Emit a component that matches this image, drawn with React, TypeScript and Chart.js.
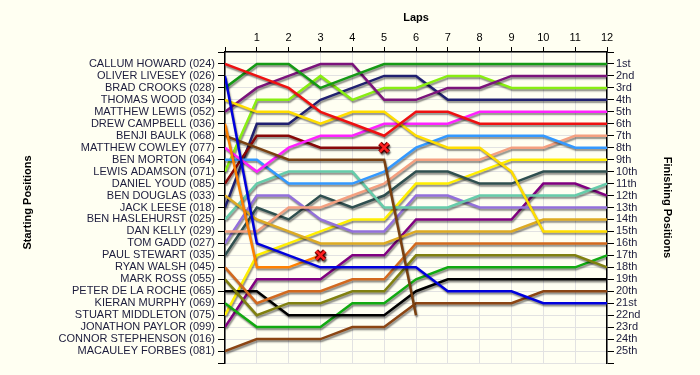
import React, { useEffect, useRef } from 'react';
import { Chart, registerables } from 'chart.js';

Chart.register(...registerables);

const LAPS = [0, 1, 2, 3, 4, 5, 6, 7, 8, 9, 10, 11, 12];

const DRIVERS = [
  'CALLUM HOWARD (024)',
  'OLIVER LIVESEY (026)',
  'BRAD CROOKS (028)',
  'THOMAS WOOD (034)',
  'MATTHEW LEWIS (052)',
  'DREW CAMPBELL (036)',
  'BENJI BAULK (068)',
  'MATTHEW COWLEY (077)',
  'BEN MORTON (064)',
  'LEWIS ADAMSON (071)',
  'DANIEL YOUD (085)',
  'BEN DOUGLAS (033)',
  'JACK LEESE (018)',
  'BEN HASLEHURST (025)',
  'DAN KELLY (029)',
  'TOM GADD (027)',
  'PAUL STEWART (035)',
  'RYAN WALSH (045)',
  'MARK ROSS (055)',
  'PETER DE LA ROCHE (065)',
  'KIERAN MURPHY (069)',
  'STUART MIDDLETON (075)',
  'JONATHON PAYLOR (099)',
  'CONNOR STEPHENSON (016)',
  'MACAULEY FORBES (081)',
];

const FINISH_LABELS = [
  '1st', '2nd', '3rd', '4th', '5th', '6th', '7th', '8th', '9th', '10th',
  '11th', '12th', '13th', '14th', '15th', '16th', '17th', '18th', '19th', '20th',
  '21st', '22nd', '23rd', '24th', '25th',
];

// Position of each driver at the end of each lap (index = lap)
const CALLUM_HOWARD = [1, 2, 3, 5, 6, 7, 5, 5, 6, 6, 6, 6, 6];
const OLIVER_LIVESEY = [2, 16, 17, 18, 18, 18, 18, 20, 20, 20, 21, 21, 21];
const BRAD_CROOKS = [3, 1, 1, 3, 2, 1, 1, 1, 1, 1, 1, 1, 1];
const THOMAS_WOOD = [4, 5, 5, 6, 5, 5, 7, 8, 8, 10, 15, 15, 15];
const MATTHEW_LEWIS = [5, 3, 2, 1, 1, 4, 4, 3, 3, 2, 2, 2, 2];
const DREW_CAMPBELL = [6, 18, 18, 17];
const BENJI_BAULK = [7, 8, 9, 9, 9, 9, 22];
const MATTHEW_COWLEY = [8, 10, 8, 7, 7, 6, 6, 6, 5, 5, 5, 5, 5];
const BEN_MORTON = [9, 9, 11, 11, 11, 10, 8, 7, 7, 7, 7, 8, 8];
const LEWIS_ADAMSON = [10, 4, 4, 2, 4, 3, 3, 2, 2, 3, 3, 3, 3];
const DANIEL_YOUD = [11, 7, 7, 8, 8, 8];
const BEN_DOUGLAS = [12, 14, 15, 16, 16, 16, 15, 15, 15, 15, 14, 14, 14];
const JACK_LEESE = [13, 6, 6, 4, 3, 2, 2, 4, 4, 4, 4, 4, 4];
const BEN_HASLEHURST = [14, 11, 10, 10, 10, 13, 13, 13, 12, 12, 12, 12, 11];
const DAN_KELLY = [15, 15, 13, 13, 12, 11, 9, 9, 9, 8, 8, 7, 7];
const TOM_GADD = [16, 12, 12, 14, 15, 15, 12, 12, 13, 13, 13, 13, 13];
const PAUL_STEWART = [17, 13, 14, 12, 13, 12, 10, 10, 11, 11, 10, 10, 10];
const RYAN_WALSH = [18, 21, 20, 20, 19, 19, 16, 16, 16, 16, 16, 16, 16];
const MARK_ROSS = [19, 22, 21, 21, 20, 20, 17, 17, 17, 17, 17, 17, 18];
const PETER_DE_LA_ROCHE = [20, 20, 22, 22, 22, 22, 20, 19, 19, 19, 19, 19, 19];
const KIERAN_MURPHY = [21, 23, 23, 23, 21, 21, 19, 18, 18, 18, 18, 18, 17];
const STUART_MIDDLETON = [22, 17, 16, 15, 14, 14, 11, 11, 10, 9, 9, 9, 9];
const JONATHON_PAYLOR = [23, 19, 19, 19, 17, 17, 14, 14, 14, 14, 11, 11, 12];
const CONNOR_STEPHENSON: number[] = [];
const MACAULEY_FORBES = [25, 24, 24, 24, 23, 23, 21, 21, 21, 21, 20, 20, 20];

const POSITIONS = [
  CALLUM_HOWARD, OLIVER_LIVESEY, BRAD_CROOKS, THOMAS_WOOD, MATTHEW_LEWIS,
  DREW_CAMPBELL, BENJI_BAULK, MATTHEW_COWLEY, BEN_MORTON, LEWIS_ADAMSON,
  DANIEL_YOUD, BEN_DOUGLAS, JACK_LEESE, BEN_HASLEHURST, DAN_KELLY,
  TOM_GADD, PAUL_STEWART, RYAN_WALSH, MARK_ROSS, PETER_DE_LA_ROCHE,
  KIERAN_MURPHY, STUART_MIDDLETON, JONATHON_PAYLOR, CONNOR_STEPHENSON, MACAULEY_FORBES,
];

const COLORS = [
  '#ee1111', '#0000dd', '#159a15', '#ffdd00', '#7b137b',
  '#ff8000', '#7a4010', '#ff22ff', '#3399ff', '#88ee11',
  '#880808', '#ddaa22', '#202070', '#66ccaa', '#f4a080',
  '#9370db', '#2f4f4f', '#d2691e', '#808010', '#000000',
  '#11aa11', '#ffee00', '#800080', '#999999', '#8b4513',
];

// Drivers whose retirement is marked with a cross
const DNF_DRIVERS = ['DREW CAMPBELL (036)', 'DANIEL YOUD (085)'];

const BG = '#fffff2';
const FONT = 'Liberation Sans, Arial, sans-serif';

const shadowPlugin = {
  id: 'lineShadow',
  beforeDatasetDraw(chart: any) {
    const ctx = chart.ctx;
    ctx.save();
    ctx.shadowColor = 'rgba(0,0,0,0.45)';
    ctx.shadowOffsetX = 1;
    ctx.shadowOffsetY = 2;
    ctx.shadowBlur = 1.5;
  },
  afterDatasetDraw(chart: any) {
    chart.ctx.restore();
  },
};

const bgPlugin = {
  id: 'bg',
  beforeDraw(chart: any) {
    const ctx = chart.ctx;
    ctx.save();
    ctx.fillStyle = BG;
    ctx.fillRect(0, 0, chart.width, chart.height);
    ctx.restore();
  },
};

const titlesPlugin = {
  id: 'titles',
  afterDraw(chart: any) {
    const ctx = chart.ctx;
    const a = chart.chartArea;
    const cy = (a.top + a.bottom) / 2;
    ctx.save();
    ctx.fillStyle = '#000';
    ctx.font = 'bold 11px ' + FONT;
    ctx.textAlign = 'center';
    ctx.textBaseline = 'middle';
    ctx.fillText('Laps', (a.left + a.right) / 2, 18);
    ctx.save();
    ctx.translate(28, cy - 5);
    ctx.rotate(-Math.PI / 2);
    ctx.fillText('Starting Positions', 0, 0);
    ctx.restore();
    ctx.save();
    ctx.translate(667, cy);
    ctx.rotate(Math.PI / 2);
    ctx.fillText('Finishing Positions', 0, 0);
    ctx.restore();
    ctx.restore();
  },
};

export default function App() {
  const canvasRef = useRef<HTMLCanvasElement | null>(null);

  useEffect(() => {
    if (!canvasRef.current) return;
    Chart.defaults.font.family = FONT;
    Chart.defaults.font.size = 11;

    const lineSets: any[] = DRIVERS.map((name, i) => ({
      label: name,
      data: POSITIONS[i].map((p, lap) => ({ x: LAPS[lap], y: p })),
      borderColor: COLORS[i],
      backgroundColor: COLORS[i],
      borderWidth: 2.5,
      pointRadius: 0,
      tension: 0,
      fill: false,
      order: 1,
      yAxisID: 'y',
    }));

    const dnfPoints = DNF_DRIVERS.map((name) => {
      const pos = POSITIONS[DRIVERS.indexOf(name)];
      return { x: LAPS[pos.length - 1], y: pos[pos.length - 1] };
    });

    const markerOutline = {
      label: 'dnf-outline',
      data: dnfPoints,
      showLine: false,
      pointStyle: 'crossRot',
      pointRadius: 6,
      borderWidth: 5,
      pointBorderColor: '#7a0000',
      borderColor: '#7a0000',
      order: 0,
      yAxisID: 'y',
    };
    const markerFill = {
      label: 'dnf',
      data: dnfPoints,
      showLine: false,
      pointStyle: 'crossRot',
      pointRadius: 6,
      borderWidth: 2.5,
      pointBorderColor: '#ff2020',
      borderColor: '#ff2020',
      order: -1,
      yAxisID: 'y',
    };

    const chart = new Chart(canvasRef.current, {
      type: 'line',
      data: { datasets: [...lineSets, markerOutline, markerFill] },
      options: {
        animation: false,
        responsive: true,
        maintainAspectRatio: false,
        devicePixelRatio: 1,
        layout: { padding: { top: 0, left: 0, right: 0, bottom: 12 } },
        plugins: {
          legend: { display: false },
          tooltip: { enabled: false },
        },
        scales: {
          x: {
            type: 'linear',
            position: 'top',
            min: 0,
            max: 12,
            ticks: {
              stepSize: 1,
              color: '#000',
              padding: 2,
              font: { size: 11, family: FONT },
              callback: (v: any) => (v === 0 ? '' : String(v)),
            },
            grid: { color: '#e2e2e2', tickColor: '#000', tickLength: 5, lineWidth: 1 },
            border: { display: true, color: '#000', width: 1.5 },
            afterFit: (s: any) => { s.height = 52; },
          },
          y: {
            type: 'linear',
            position: 'left',
            min: 0,
            max: 26,
            reverse: true,
            ticks: {
              stepSize: 1,
              autoSkip: false,
              color: '#1c1c3c',
              padding: 3,
              font: { size: 11, family: FONT },
              callback: (v: any) => (v >= 1 && v <= DRIVERS.length ? DRIVERS[v - 1] : ''),
            },
            grid: { color: '#e2e2e2', tickColor: '#000', tickLength: 7, lineWidth: 1 },
            border: { display: true, color: '#000', width: 1.5 },
            afterFit: (s: any) => { s.width = 225; },
          },
          y2: {
            type: 'linear',
            position: 'right',
            min: 0,
            max: 26,
            reverse: true,
            ticks: {
              stepSize: 1,
              autoSkip: false,
              color: '#1c1c3c',
              padding: 2,
              font: { size: 11, family: FONT },
              callback: (v: any) => (v >= 1 && v <= FINISH_LABELS.length ? FINISH_LABELS[v - 1] : ''),
            },
            grid: { drawOnChartArea: false, tickColor: '#000', tickLength: 7 },
            border: { display: true, color: '#000', width: 1.5 },
            afterFit: (s: any) => { s.width = 93; },
          },
        },
      } as any,
      plugins: [bgPlugin, shadowPlugin, titlesPlugin],
    });

    return () => chart.destroy();
  }, []);

  return (
    <div style={{ position: 'fixed', left: 0, top: 0, width: 700, height: 375, background: BG }}>
      <canvas ref={canvasRef} />
    </div>
  );
}
